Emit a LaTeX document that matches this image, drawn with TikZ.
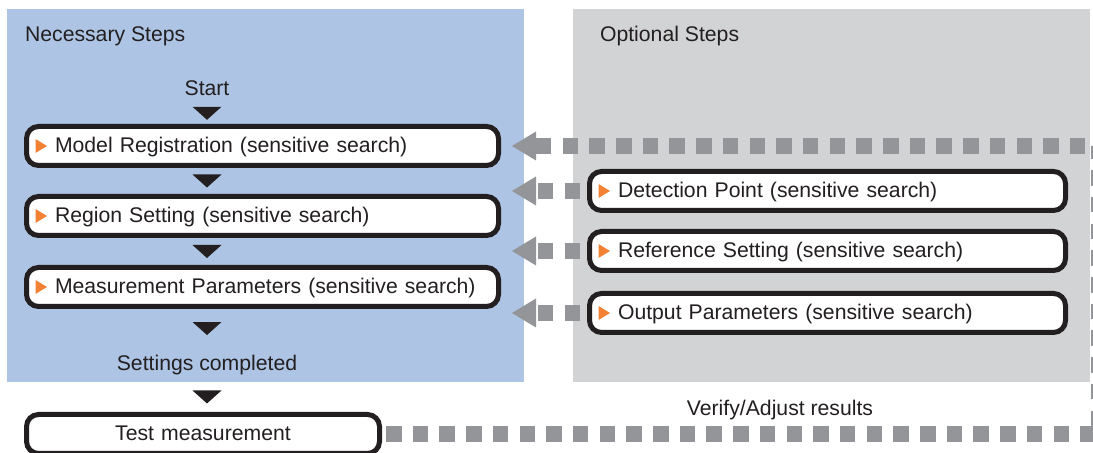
\documentclass[tikz,border=0pt]{standalone}
\usepackage{fontspec}
\setmainfont{Liberation Sans}
\usepackage{tikz}
\usetikzlibrary{arrows.meta, calc}
\definecolor{cielo}{RGB}{173,196,228}
\definecolor{niebla}{RGB}{209,211,212}
\definecolor{acero}{RGB}{147,149,152}
\definecolor{naranja}{RGB}{243,129,52}
\definecolor{tinta}{RGB}{35,31,32}

\begin{document}
\begin{tikzpicture}[x=0.5pt, y=-0.5pt, font=\fontsize{10.6}{12.7}\selectfont, text=tinta,
  stepbox/.style={draw=tinta, line width=2.5pt, rounded corners=6pt, fill=white,
    minimum height=19.5pt, text height=8.6pt, text depth=1.6pt,
    inner xsep=14.25pt, text width=#1, align=left},
  optarrow/.style={acero, line width=7.75pt, dash pattern=on 7.75pt off 5.6pt,
    -{Triangle[length=12pt, width=14.5pt, line width=0pt]}}]
  \useasboundingbox (0,0) rectangle (1093,453);
  \clip (0,0) rectangle (1093,453);
  \fill[white] (0,0) rectangle (1093,453);
  \fill[cielo] (7,9) rectangle (524,382);
  \fill[niebla] (573,9) rectangle (1090,382);
  \node[anchor=west] (nec) at (18,36) {Necessary Steps};
  \node[anchor=west] (opt) at (593,36) {Optional Steps};
  \node (start) at (207,88) {Start};
  \node[stepbox=207.5pt, anchor=west] (mr) at (24,146) {Model Registration (sensitive search)};
  \node[stepbox=207.5pt, anchor=west] (rs) at (24,216) {Region Setting (sensitive search)};
  \node[stepbox=207.5pt, anchor=west] (mp) at (24,287) {\mbox{Measurement Parameters (sensitive search)}};
  \node (done) at (207,365) {Settings completed};
  \node[stepbox=148pt, align=center, anchor=west] (tm) at (24,434) {Test measurement};
  \node[stepbox=209.5pt, anchor=west] (dp) at (587,191) {Detection Point (sensitive search)};
  \node[stepbox=209.5pt, anchor=west] (rf) at (587,251) {Reference Setting (sensitive search)};
  \node[stepbox=209.5pt, anchor=west] (op) at (587,313) {Output Parameters (sensitive search)};
  \node (verify) at (780,410) {Verify/Adjust results};
  \coordinate (rim) at (1099,0);
  % flow marks
  \foreach \a/\b in {start/mr, mr/rs, rs/mp, mp/done, done/tm} {
    \path ($(\a.south)!0.5!(\b.north)$) coordinate (m);
    \fill[tinta] (start |- m) +(-14.5,-6.5) -- +(14.5,-6.5) -- +(0,6.5) -- cycle;
  }
  \foreach \b in {mr, rs, mp, dp, rf, op}
    \fill[naranja] ([xshift=5.75pt]\b.west) +(0,-7) -- +(0,7) -- +(11.5,0) -- cycle;
  % optional steps feed back
  \foreach \b in {dp, rf, op}
    \draw[optarrow] ([xshift=-3.5pt]\b.west) -- ([xshift=5.5pt]\b.west -| mr.east);
  \draw[optarrow, shorten >=5.5pt] ([xshift=2pt]tm.east) -- (tm.east -| rim) -- (mr.east -| rim) -- (mr.east);
\end{tikzpicture}
\end{document}
